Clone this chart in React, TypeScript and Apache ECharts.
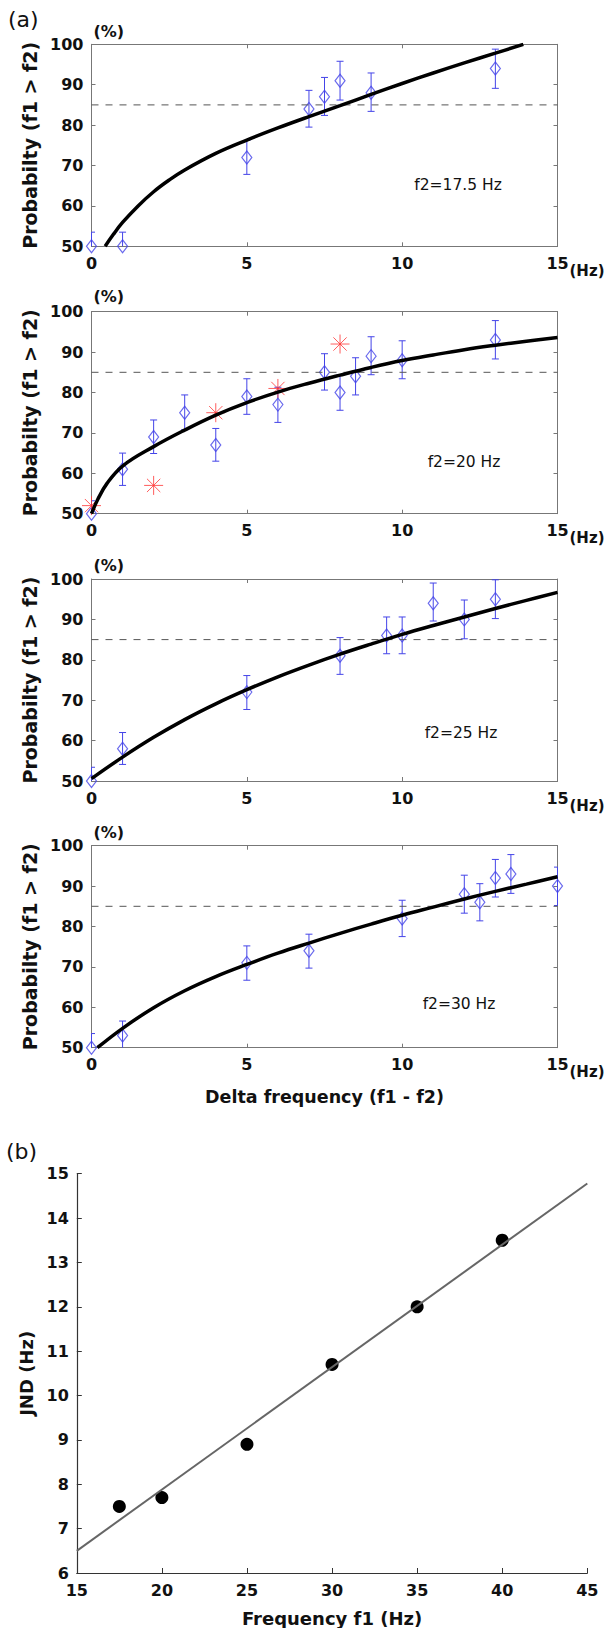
import React, { useEffect, useRef } from "react";
import * as echarts from "echarts";

// ---------- data ----------
const deltaRange = [0, 15];
const probRange = [50, 100];
const thresholdX = [0, 15];
const thresholdProb = 85;

// f2 = 17.5 Hz
const f175Delta = [0, 1, 5, 7, 7.5, 8, 9, 13];
const f175Prob = [50, 50, 72, 84, 87, 91, 88, 94];
const f175Low = [46.5, 46.5, 67.8, 79.5, 82.4, 86.2, 83.4, 89.1];
const f175High = [53.5, 53.5, 76.2, 88.6, 91.8, 95.8, 92.9, 98.8];
const f175FitX = [0.44, 0.7, 1, 1.5, 2, 2.5, 3, 4, 5, 6, 7, 8, 9, 10, 11, 12, 13, 13.9];
const f175FitY = [50, 52.9, 55.9, 60, 63.5, 66.4, 68.9, 73, 76.3, 79.3, 82.1, 84.8, 87.6, 90.3, 92.9, 95.4, 97.8, 100];

// f2 = 20 Hz
const f20Delta = [0, 1, 2, 3, 4, 5, 6, 7.5, 8, 8.5, 9, 10, 13];
const f20Prob = [50, 61, 69, 75, 67, 79, 77, 85, 80, 84, 89, 88, 93];
const f20Low = [46.8, 57, 64.9, 70.8, 63, 74.6, 72.6, 80.6, 75.6, 79.4, 84.4, 83.4, 88.3];
const f20High = [53.2, 65, 73.2, 79.4, 71.1, 83.4, 81.3, 89.6, 84.4, 88.6, 93.8, 92.8, 97.8];
const f20ModelDelta = [0, 2, 4, 6, 8];
const f20ModelProb = [52, 57, 75, 81, 92];
const f20FitX = [0, 0.2, 0.5, 1, 2, 3, 4, 5, 6, 7, 8, 9, 10, 11, 12, 13, 14, 15];
const f20FitY = [50, 53.5, 57.5, 61.8, 66.6, 70.7, 74.4, 77.5, 80.1, 82.3, 84.3, 86.2, 87.9, 89.3, 90.6, 91.7, 92.7, 93.6];

// f2 = 25 Hz
const f25Delta = [0, 1, 5, 8, 9.5, 10, 11, 12, 13];
const f25Prob = [50, 58, 72, 81, 86, 86, 94, 90, 95];
const f25Low = [46.6, 54.1, 67.7, 76.4, 81.5, 81.5, 89.6, 85.2, 90.2];
const f25High = [53.4, 62, 76.1, 85.5, 90.6, 90.6, 99, 94.8, 99.8];
const f25FitX = [0, 1, 2, 3, 4, 5, 6, 7, 8, 9, 10, 11, 12, 13, 14, 15];
const f25FitY = [50.6, 55.9, 60.8, 65.2, 69.1, 72.6, 75.8, 78.7, 81.4, 83.9, 86.3, 88.5, 90.6, 92.7, 94.7, 96.7];

// f2 = 30 Hz
const f30Delta = [0, 1, 5, 7, 10, 12, 12.5, 13, 13.5, 15];
const f30Prob = [50, 53, 71, 74, 82, 88, 86, 92, 93, 90];
const f30Low = [46.5, 49.3, 66.7, 69.7, 77.5, 83.3, 81.4, 87.3, 88.2, 85.2];
const f30High = [53.5, 56.6, 75.2, 78.1, 86.5, 92.7, 90.6, 96.6, 97.8, 94.7];
const f30FitX = [0.19, 1, 2, 3, 4, 5, 6, 7, 8, 9, 10, 11, 12, 13, 14, 15];
const f30FitY = [50, 54.8, 59.9, 64.1, 67.6, 70.6, 73.4, 75.9, 78.3, 80.6, 82.8, 84.8, 86.8, 88.7, 90.5, 92.3];

// panel (b)
const f1Freq = [17.5, 20, 25, 30, 35, 40];
const jnd = [7.5, 7.7, 8.9, 10.7, 12.0, 13.5];
const jndFitX = [15, 45];
const jndFitY = [6.5, 14.78];
const freqRange = [15, 45];
const jndRange = [6, 15];

const panelLabels = ["f2=17.5 Hz", "f2=20 Hz", "f2=25 Hz", "f2=30 Hz"];

// ---------- layout ----------
const FONT = "DejaVu Sans";
const BLUE = "#4444e8";
const RED = "#ff3535";
const A_LEFT = 91.5;
const A_WIDTH = 466;
const A_TOPS = [44.3, 311.7, 579, 845.7];
const A_HEIGHT = 202;
const PCT_Y = [32.5, 297, 566.7, 833.3];
const LABEL_DY = [140.7, 150, 154.3, 158.6];
const LABEL_X = [458, 464, 461, 459];
const B_LEFT = 76.8;
const B_TOP = 1173.7;
const B_WIDTH = 510.5;
const B_HEIGHT = 399.6;

const panels = [
  { dx: f175Delta, p: f175Prob, lo: f175Low, hi: f175High, fx: f175FitX, fy: f175FitY, mx: [] as number[], my: [] as number[] },
  { dx: f20Delta, p: f20Prob, lo: f20Low, hi: f20High, fx: f20FitX, fy: f20FitY, mx: f20ModelDelta, my: f20ModelProb },
  { dx: f25Delta, p: f25Prob, lo: f25Low, hi: f25High, fx: f25FitX, fy: f25FitY, mx: [] as number[], my: [] as number[] },
  { dx: f30Delta, p: f30Prob, lo: f30Low, hi: f30High, fx: f30FitX, fy: f30FitY, mx: [] as number[], my: [] as number[] },
];

const errorRender = (params: any, api: any) => {
  const x = api.value(0);
  const lo = api.coord([x, api.value(1)]);
  const hi = api.coord([x, api.value(2)]);
  const cs = params.coordSys;
  const top = cs.y;
  const bot = cs.y + cs.height;
  const left = cs.x;
  const right = cs.x + cs.width;
  const cx = lo[0];
  const yl = Math.min(lo[1], bot);
  const yh = Math.max(hi[1], top);
  const style = { stroke: BLUE, lineWidth: 1 };
  const cw = 3.5;
  const children: any[] = [
    { type: "line", shape: { x1: cx, y1: yl, x2: cx, y2: yh }, style },
  ];
  const x1 = Math.max(cx - cw, left);
  const x2 = Math.min(cx + cw, right);
  if (lo[1] <= bot + 0.5) children.push({ type: "line", shape: { x1, y1: lo[1], x2, y2: lo[1] }, style });
  if (hi[1] >= top - 0.5) children.push({ type: "line", shape: { x1, y1: hi[1], x2, y2: hi[1] }, style });
  return { type: "group", children };
};

function buildOption() {
  const grid: any[] = [];
  const xAxis: any[] = [];
  const yAxis: any[] = [];
  const series: any[] = [];
  const graphic: any[] = [];
  const boxLine = { show: true, onZero: false, lineStyle: { color: "#777", width: 1 } };
  const tick = { show: true, inside: true, length: 4, lineStyle: { color: "#777" } };
  const tickLabel = { fontFamily: FONT, fontWeight: "bold", fontSize: 16, color: "#111" };

  panels.forEach((pn, i) => {
    grid.push({ left: A_LEFT, top: A_TOPS[i], width: A_WIDTH, height: A_HEIGHT });
    const xb: any = {
      type: "value", gridIndex: i, position: "bottom", min: deltaRange[0], max: deltaRange[1], interval: 5,
      axisLine: boxLine, axisTick: tick, splitLine: { show: false },
      axisLabel: { ...tickLabel, margin: 9 },
    };
    if (i === 3) {
      xb.name = "Delta frequency (f1 - f2)";
      xb.nameLocation = "middle";
      xb.nameGap = 40;
      xb.nameTextStyle = { fontFamily: FONT, fontWeight: "bold", fontSize: 17.5, color: "#111" };
    }
    xAxis.push(xb);
    xAxis.push({
      type: "value", gridIndex: i, position: "top", min: deltaRange[0], max: deltaRange[1], interval: 5,
      axisLine: boxLine, axisTick: tick, splitLine: { show: false }, axisLabel: { show: false },
    });
    yAxis.push({
      type: "value", gridIndex: i, position: "left", min: probRange[0], max: probRange[1], interval: 10,
      axisLine: boxLine, axisTick: tick, splitLine: { show: false },
      axisLabel: { ...tickLabel, margin: 8 },
      name: "Probabilty (f1 > f2)", nameLocation: "middle", nameGap: 50, nameRotate: 90,
      nameTextStyle: { fontFamily: FONT, fontWeight: "bold", fontSize: 19, color: "#111" },
    });
    yAxis.push({
      type: "value", gridIndex: i, position: "right", min: probRange[0], max: probRange[1], interval: 10,
      axisLine: boxLine, axisTick: tick, splitLine: { show: false }, axisLabel: { show: false },
    });
    const xi = 2 * i;
    const yi = 2 * i;
    series.push({
      type: "line", xAxisIndex: xi, yAxisIndex: yi, showSymbol: false, silent: true,
      data: thresholdX.map((x) => [x, thresholdProb]),
      lineStyle: { color: "#555", width: 1, type: [7, 7] },
    });
    series.push({
      type: "custom", xAxisIndex: xi, yAxisIndex: yi, renderItem: errorRender, silent: true,
      data: pn.dx.map((x, k) => [x, pn.lo[k], pn.hi[k]]),
    });
    series.push({
      type: "scatter", xAxisIndex: xi, yAxisIndex: yi, symbol: "diamond", symbolSize: [10, 13],
      itemStyle: { color: "rgba(0,0,0,0)", borderColor: BLUE, borderWidth: 1.2 },
      data: pn.dx.map((x, k) => [x, pn.p[k]]), clip: false,
    });
    if (pn.mx.length) {
      series.push({
        type: "scatter", xAxisIndex: xi, yAxisIndex: yi,
        symbol: "path://M0 10 L20 10 M10 0 L10 20 M3 3 L17 17 M17 3 L3 17", symbolSize: 19,
        itemStyle: { color: "rgba(0,0,0,0)", borderColor: RED, borderWidth: 1 },
        data: pn.mx.map((x, k) => [x, pn.my[k]]), clip: false,
      });
    }
    series.push({
      type: "line", xAxisIndex: xi, yAxisIndex: yi, showSymbol: false, smooth: 0.4, silent: true,
      data: pn.fx.map((x, k) => [x, pn.fy[k]]), clip: true,
      lineStyle: { color: "#000", width: 3.5 },
    });
    graphic.push({
      type: "text", left: A_LEFT + 2, top: PCT_Y[i] - 9,
      style: { text: "(%)", font: `bold 16px '${FONT}'`, fill: "#111" },
    });
    graphic.push({
      type: "text", left: A_LEFT + A_WIDTH + 12, top: A_TOPS[i] + A_HEIGHT + 17,
      style: { text: "(Hz)", font: `bold 15px '${FONT}'`, fill: "#111" },
    });
    graphic.push({
      type: "text", x: LABEL_X[i], y: A_TOPS[i] + LABEL_DY[i],
      style: { text: panelLabels[i], font: `15.5px '${FONT}'`, fill: "#111", align: "center", verticalAlign: "middle" },
    });
  });

  // panel (b)
  grid.push({ left: B_LEFT, top: B_TOP, width: B_WIDTH, height: B_HEIGHT });
  const bLine = { show: true, onZero: false, lineStyle: { color: "#333", width: 1.2 } };
  const bTick = { show: true, inside: true, length: 5, lineStyle: { color: "#333" } };
  xAxis.push({
    type: "value", gridIndex: 4, min: freqRange[0], max: freqRange[1], interval: 5,
    axisLine: bLine, axisTick: bTick, splitLine: { show: false },
    axisLabel: { ...tickLabel, margin: 9 },
    name: "Frequency f1 (Hz)", nameLocation: "middle", nameGap: 36,
    nameTextStyle: { fontFamily: FONT, fontWeight: "bold", fontSize: 18, color: "#111" },
  });
  yAxis.push({
    type: "value", gridIndex: 4, min: jndRange[0], max: jndRange[1], interval: 1,
    axisLine: bLine, axisTick: bTick, splitLine: { show: false },
    axisLabel: { ...tickLabel, margin: 8 },
    name: "JND (Hz)", nameLocation: "middle", nameGap: 36, nameRotate: 90,
    nameTextStyle: { fontFamily: FONT, fontWeight: "bold", fontSize: 18, color: "#111" },
  });
  series.push({
    type: "line", xAxisIndex: 8, yAxisIndex: 8, showSymbol: false, silent: true,
    data: jndFitX.map((x, k) => [x, jndFitY[k]]),
    lineStyle: { color: "#666", width: 2 },
  });
  series.push({
    type: "scatter", xAxisIndex: 8, yAxisIndex: 8, symbol: "circle", symbolSize: 13,
    itemStyle: { color: "#000", opacity: 1 },
    data: f1Freq.map((x, k) => [x, jnd[k]]),
  });

  graphic.push({ type: "text", left: 8, top: 8, style: { text: "(a)", font: `22px '${FONT}'`, fill: "#111" } });
  graphic.push({ type: "text", left: 6, top: 1140, style: { text: "(b)", font: `22px '${FONT}'`, fill: "#111" } });

  return {
    animation: false,
    backgroundColor: "#fff",
    grid, xAxis, yAxis, series, graphic,
  };
}

export default function App() {
  const ref = useRef<HTMLDivElement>(null);
  useEffect(() => {
    if (!ref.current) return;
    const chart = echarts.init(ref.current, undefined, { renderer: "svg" });
    chart.setOption(buildOption() as any);
    return () => chart.dispose();
  }, []);
  return (
    <div
      ref={ref}
      style={{ position: "absolute", left: 0, top: 0, width: 606, height: 1628, background: "#fff" }}
    />
  );
}
